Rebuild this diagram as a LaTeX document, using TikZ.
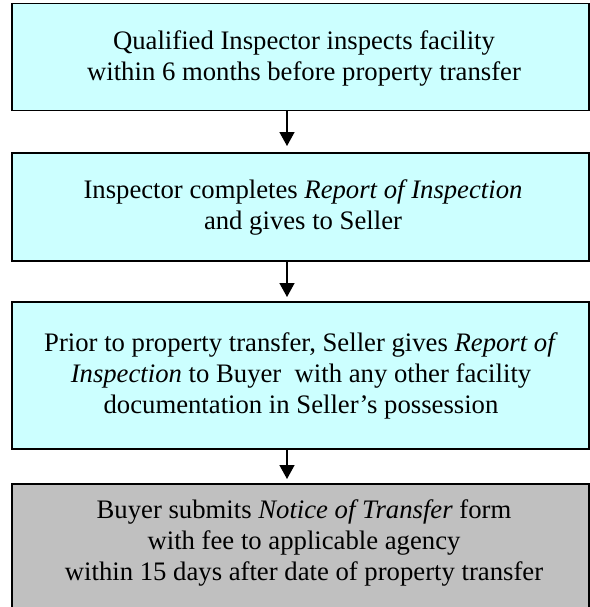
\documentclass[tikz,border=0pt]{standalone}
\usepackage{fontspec}
\setmainfont{Liberation Serif}
\usetikzlibrary{arrows.meta}
\definecolor{boxcyan}{HTML}{CCFFFF}
\definecolor{boxgray}{HTML}{C0C0C0}
\tikzset{
  stepbox/.style={draw=black, line width=1.5pt, fill=boxcyan, anchor=north west,
    minimum width=577pt, inner sep=0pt},
  txt/.style={align=center, font=\fontsize{26.7}{31}\selectfont, inner sep=0pt},
  flow/.style={line width=1.5pt, -{Triangle[width=15pt,length=14pt]}},
}
\begin{document}
\begin{tikzpicture}[x=1pt,y=-1pt]
\useasboundingbox (0,0) rectangle (589,607);
\coordinate (ax) at (287,0);
\node[stepbox, minimum height=107pt] (b1) at (11,3) {};
\node[txt] (t1) at (304,58) {Qualified Inspector inspects facility\\within 6 months before property transfer};
\node[stepbox, minimum height=108pt] (b2) at (11,152) {};
\node[txt] (t2) at (303,207) {Inspector completes \textit{Report of Inspection}\\and gives to Seller};
\node[stepbox, minimum height=147pt] (b3) at (11,301) {};
\node[txt] (t3) at (301,376) {Prior to property transfer, Seller gives \textit{Report of}\\\textit{Inspection} to Buyer\ \ with any other facility\\documentation in Seller’s possession};
\node[stepbox, fill=boxgray, minimum height=135pt] (b4) at (11,483) {};
\node[txt] (t4) at (304,543) {Buyer submits \textit{Notice of Transfer} form\\with fee to applicable agency\\within 15 days after date of property transfer};
\draw[flow, shorten >=6pt] (b1.south -| ax) -- (b2.north -| ax);
\draw[flow, shorten >=4pt] (b2.south -| ax) -- (b3.north -| ax);
\draw[flow, shorten >=4pt] (b3.south -| ax) -- (b4.north -| ax);
\end{tikzpicture}
\end{document}
